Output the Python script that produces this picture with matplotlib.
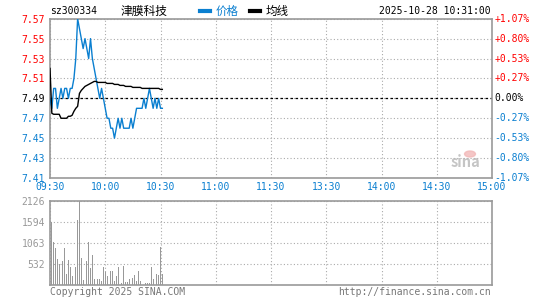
import numpy as np
import matplotlib.pyplot as plt

# 分时数据 (09:30 起, 每分钟一个点)
price = [7.49, 7.48, 7.50, 7.50, 7.48, 7.49, 7.50, 7.49, 7.50, 7.50,
         7.49, 7.50, 7.50, 7.51, 7.53, 7.57, 7.56, 7.55, 7.54, 7.55,
         7.54, 7.53, 7.55, 7.53, 7.52, 7.51, 7.50, 7.49, 7.50, 7.49,
         7.48, 7.47, 7.47, 7.46, 7.46, 7.45, 7.46, 7.47, 7.46, 7.47,
         7.46, 7.46, 7.46, 7.46, 7.47, 7.46, 7.47, 7.48, 7.48, 7.48,
         7.48, 7.49, 7.48, 7.49, 7.50, 7.49, 7.48, 7.49, 7.48, 7.49,
         7.48, 7.48]
avg = [7.52, 7.475, 7.474, 7.474, 7.474, 7.474, 7.47, 7.47, 7.47, 7.47,
       7.472, 7.472, 7.473, 7.477, 7.480, 7.482, 7.495, 7.498, 7.500, 7.502,
       7.503, 7.504, 7.505, 7.506, 7.507, 7.507, 7.506, 7.506, 7.506, 7.506,
       7.506, 7.505, 7.505, 7.505, 7.505, 7.504, 7.504, 7.504, 7.503, 7.503,
       7.503, 7.502, 7.502, 7.502, 7.502, 7.501, 7.501, 7.501, 7.501, 7.501,
       7.500, 7.500, 7.500, 7.500, 7.500, 7.500, 7.500, 7.500, 7.500, 7.500,
       7.499, 7.499]
volume = [455, 1594, 1080, 945, 666, 531, 1443, 607, 945, 287,
          641, 464, 236, 455, 455, 1654, 2126, 692, 118, 160,
          616, 1097, 439, 759, 160, 337, 160, 160, 110, 455,
          337, 219, 363, 363, 363, 110, 219, 455, 262, 59,
          481, 76, 67, 152, 59, 169, 262, 110, 354, 110,
          211, 152, 59, 59, 59, 464, 152, 152, 287, 262,
          970, 287]

prev_close = 7.49
price_ticks = [7.57, 7.55, 7.53, 7.51, 7.49, 7.47, 7.45, 7.43, 7.41]
pct_labels = ['+1.07%', '+0.80%', '+0.53%', '+0.27%', '0.00%',
              '-0.27%', '-0.53%', '-0.80%', '-1.07%']
time_labels = ['09:30', '10:00', '10:30', '11:00', '11:30',
               '13:30', '14:00', '14:30', '15:00']
vol_ticks = [532, 1063, 1594, 2126]

BLUE = '#0a7fd0'
RED = '#ff0000'
GRAY = '#999999'
MONO = 'DejaVu Sans Mono'

plt.rcParams['font.family'] = ['Noto Sans CJK SC', 'DejaVu Sans']

fig = plt.figure(figsize=(5.45, 3.0), dpi=100)
ax = fig.add_axes([50/545, 1 - 178/300, 442/545, 159.3/300])
axv = fig.add_axes([50/545, 1 - 285/300, 442/545, 84/300])

t = np.arange(len(price))
tv = np.arange(len(volume))

for a in (ax, axv):
    a.set_xlim(0, 240)
    for s in a.spines.values():
        s.set_color(GRAY)
        s.set_linewidth(1.2)
    a.set_xticks(np.arange(0, 241, 30))
    a.tick_params(length=0)
    a.grid(True, color='#aaaaaa', linestyle=(0, (1, 2)), linewidth=0.8)
    a.set_axisbelow(True)

# 价格区
ax.set_ylim(7.41, 7.57)
ax.set_yticks(price_ticks)
ax.plot(t, price, color=BLUE, linewidth=1.0, zorder=3)
ax.plot(t, avg, color='black', linewidth=1.0, zorder=3)
ax.axhline(prev_close, color='black', linestyle=(0, (2, 2)), linewidth=0.9, zorder=2)

ax.set_yticklabels([f'{v:.2f}' for v in price_ticks], fontfamily=MONO, fontsize=7)
for lab, v in zip(ax.get_yticklabels(), price_ticks):
    lab.set_color(RED if v > prev_close else ('black' if v == prev_close else BLUE))
ax.set_xticklabels(time_labels, fontfamily=MONO, fontsize=7, color=BLUE)
ax.tick_params(axis='x', pad=3)

for v, lab in zip(price_ticks, pct_labels):
    c = RED if v > prev_close else ('black' if v == prev_close else BLUE)
    ax.text(1.006, (v - 7.41) / 0.16, lab, transform=ax.transAxes,
            fontfamily=MONO, fontsize=7, color=c, va='center', ha='left')

# 成交量区
axv.set_ylim(0, 2126)
axv.set_yticks(vol_ticks)
axv.bar(tv, volume, width=0.45, color=GRAY, zorder=3)
axv.set_yticklabels([str(v) for v in vol_ticks], fontfamily=MONO, fontsize=7, color=GRAY)
axv.set_xticklabels([])

# 标题与图例
fig.text(50/545, 1 - 11/300, 'sz300334', fontfamily=MONO, fontsize=7, va='center')
fig.text(121/545, 1 - 11/300, '津膜科技', fontsize=8.5, va='center')
fig.add_artist(plt.Line2D([200/545, 210/545], [1 - 11/300] * 2, color=BLUE, linewidth=3))
fig.text(216/545, 1 - 11/300, '价格', fontsize=8.3, va='center', color=BLUE)
fig.add_artist(plt.Line2D([250/545, 260/545], [1 - 11/300] * 2, color='black', linewidth=3))
fig.text(266/545, 1 - 11/300, '均线', fontsize=8.3, va='center')
fig.text(491/545, 1 - 11/300, '2025-10-28 10:31:00', fontfamily=MONO, fontsize=7,
         va='center', ha='right')

# 水印
fig.add_artist(plt.Circle((470/545, 1 - 154/300), 0.010, color='#f2b8b8',
                          transform=fig.transFigure, alpha=0.8))
fig.text(465/545, 1 - 162/300, 'sina', fontsize=10.5, fontweight='bold', style='italic',
         color='#bbbbbb', ha='center', va='center', alpha=0.85)

fig.text(50/545, 1 - 292/300, 'Copyright 2025 SINA.COM', fontfamily=MONO, fontsize=7,
         color='#777777', va='center')
fig.text(491/545, 1 - 292/300, 'http://finance.sina.com.cn', fontfamily=MONO, fontsize=7,
         color='#777777', va='center', ha='right')

fig.savefig('out.png', dpi=100)
